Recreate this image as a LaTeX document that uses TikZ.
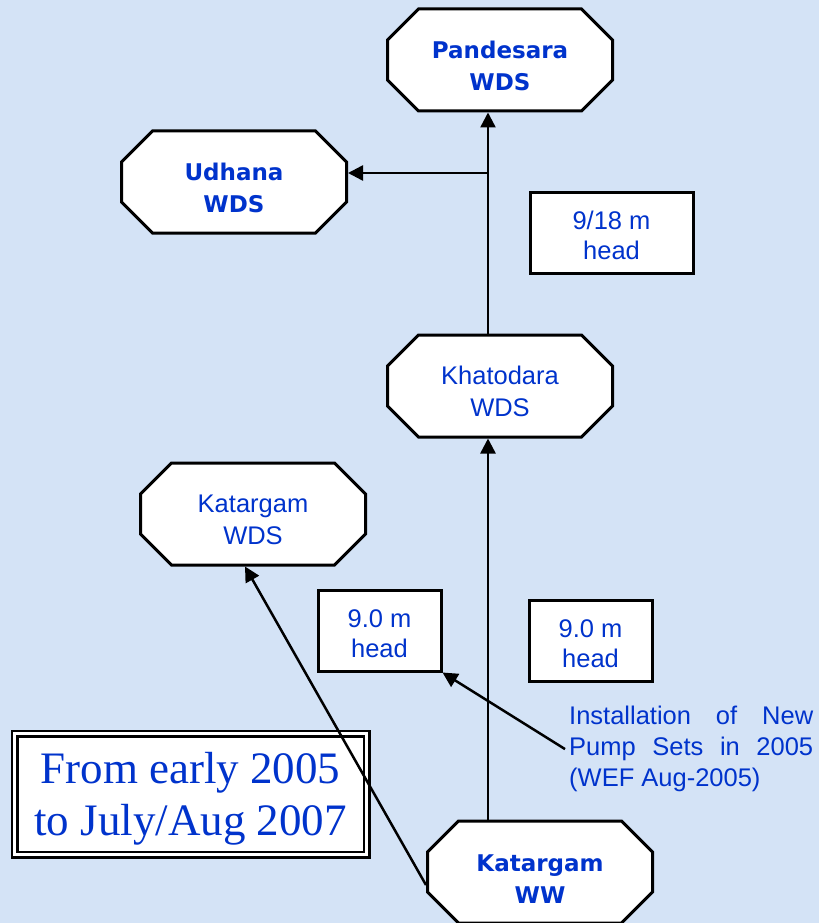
\documentclass[tikz,border=0pt]{standalone}
\usepackage{fontspec}
\setmainfont{Liberation Serif}
\setsansfont{Liberation Sans}
\newfontfamily\wdsbold{DejaVu Sans}
\usetikzlibrary{shapes.misc,arrows.meta,positioning}

\definecolor{wdsblue}{RGB}{0,51,204}
\definecolor{paper}{RGB}{212,227,246}

% invisible strut, pushes a text block down in its node
\newcommand\lift[1]{\rule{0pt}{#1}}

\tikzset{
  wds/.style={chamfered rectangle, chamfered rectangle xsep=28pt,
    draw, fill=white, line width=3pt, minimum width=225pt,
    minimum height=102pt, inner sep=0pt, align=center, text=wdsblue,
    font=\sffamily\fontsize{25.5}{32}\selectfont},
  wdsb/.style={wds, font=\wdsbold\bfseries\fontsize{23}{32}\selectfont},
  headbox/.style={draw, fill=white, line width=3pt, inner sep=0pt,
    minimum width=123pt, minimum height=81pt, align=center, text=wdsblue,
    font=\sffamily\fontsize{25.5}{30}\selectfont},
  arr/.style={line width=2.5pt, -{Triangle[length=15pt,width=15pt]}}
}

\begin{document}
\begin{tikzpicture}[x=1pt,y=-1pt]

\fill[paper] (0,0) rectangle (819,923);
\useasboundingbox (0,0) rectangle (819,923);

% distribution stations
\node[wdsb] (pand) at (500,60) {\lift{30pt}Pandesara\\WDS};
\node[wdsb] (udh) at (234,182) {\lift{30pt}Udhana\\WDS};
\node[wds] (khat) at (500,386) {\lift{30pt}Khatodara\\WDS};
\node[wds] (kwds) at (253,514) {\lift{30pt}Katargam\\WDS};
\node[wdsb] (ww) at (540,872) {\lift{30pt}Katargam\\WW};

% heads
\node[headbox, minimum width=163pt] (head2) at (611.5,232.5) {\lift{24pt}9/18 m\\head};
\node[headbox] (head1) at (379.5,630.5) {\lift{24pt}9.0 m\\head};
\node[headbox] (head3) at (590.5,641) {\lift{24pt}9.0 m\\head};

\node[draw, fill=white, line width=2.5pt, double=white, double distance=3pt,
  minimum width=352pt, minimum height=121pt, inner sep=0pt, align=center,
  text=wdsblue, font=\fontsize{45}{52}\selectfont] (period) at (190.5,794)
  {\lift{40pt}From early 2005\\to July/Aug 2007};

\node[anchor=north west, inner sep=0pt, text width=244pt, align=justify,
  text=wdsblue, font=\sffamily\fontsize{25.5}{31}\selectfont] (inst) at (569,706)
  {Installation of New\linebreak Pump Sets in 2005\linebreak (WEF Aug-2005)};

\coordinate (tee) at (488,173);

\draw[arr] ([xshift=-12pt]khat.north) -- ([xshift=-12pt]pand.south);
\draw[arr] (tee) -- ([yshift=9pt]udh.east);
\draw[arr] ([xshift=-12pt]khat.south |- ww.north) -- ([xshift=-12pt]khat.south);
\draw[arr] ([yshift=-13pt]ww.west) -- ([xshift=-8pt]kwds.south);
\draw[arr] ([xshift=-4pt]inst.west) -- (head1.south east);

\end{tikzpicture}
\end{document}
